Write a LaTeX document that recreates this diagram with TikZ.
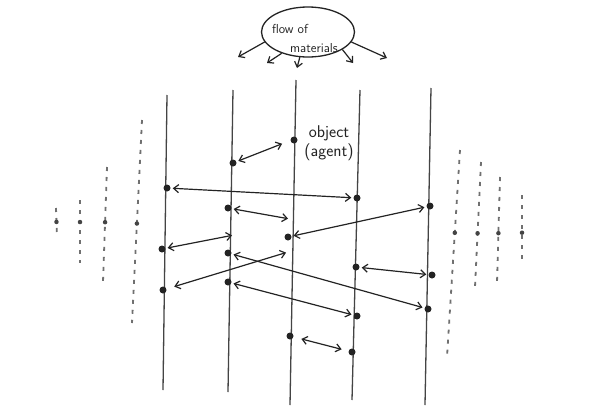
\documentclass[tikz,border=0pt]{standalone}
\usetikzlibrary{arrows.meta,positioning,shapes.geometric}
\definecolor{pencil}{RGB}{35,35,35}
\definecolor{paper}{RGB}{255,255,255}
\tikzset{
  lifeline/.style={line width=1.3pt,pencil!85},
  faint/.style={line width=1.8pt,pencil!65,dash pattern=on 4pt off 6pt},
  tick/.style={circle,fill=pencil!85,inner sep=0pt,minimum size=4.5pt},
  pt/.style={circle,fill=pencil,inner sep=0pt,minimum size=7pt},
  talk/.style={{Straight Barb[length=5pt,width=8pt]}-{Straight Barb[length=5pt,width=8pt]},line width=1.2pt,pencil,shorten <=2pt,shorten >=2pt},
  flow/.style={-{Straight Barb[length=5pt,width=8pt]},line width=1.2pt,pencil},
  hand/.style={font=\sffamily\fontsize{#1}{20}\selectfont,text=pencil}
}
\begin{document}
\begin{tikzpicture}[x=1pt,y=-1pt]
    \useasboundingbox[fill=paper] (0,0) rectangle (592,410);
    % the objects
    \foreach \n/\xt/\yt/\xb/\yb in {1/167/95/163/390, 2/233/90/228/392,
      3/296/80/290/405, 4/360/90/352/400, 5/431/88/425/405}
      \draw[lifeline] (\xt,\yt) coordinate (l\n t) -- (\xb,\yb) coordinate (l\n b);
    % objects fading out on both sides
    \foreach \n/\xt/\yt/\xb/\yb/\p in {a/142/120/132/323/.51, b/107/167/103/282/.48,
      c/80/200/80/263/.35, d/56/208/57/237/.48, e/460/150/447/357/.40,
      f/481/162/475/287/.57, g/500/177/497/283/.53, h/522/195/522/260/.58}
      \draw[faint] (\xt,\yt) -- node[pos=\p,tick] (m\n) {} (\xb,\yb);
    % cloud
    \node[ellipse,draw=pencil,line width=1.3pt,minimum width=93pt,minimum height=50pt] (cloud) at (308,32) {};
    \node[hand=13,anchor=center] (flowtxt) at (290,29) {flow of};
    \node[hand=13,anchor=center] (mattxt) at (314,48) {materials};
    \foreach \a/\x/\y [count=\i] in {193/238/57, 219/267/63, 252/297/68, 333/353/63, 347/387/58}
    {
      \coordinate (f\i) at (\x,\y);
      \draw[flow] (cloud.\a) -- (f\i);
    }
    % interactions
    \node[pt] (obj) at (294,140) {};
    \node[align=center,hand=17] (lbl) at (329,143) {object\\[-1pt](agent)};
    \node[pt] (b1) at (233,163) {};
    \node[pt] (a1) at (167,188) {};
    \node[pt] (d1) at (357,198) {};
    \node[pt] (b2) at (228,208) {};
    \node[pt] (e1) at (430,206) {};
    \node[pt] (c1) at (288,237) {};
    \node[pt] (a2) at (162,249) {};
    \node[pt] (b3) at (228,253) {};
    \node[pt] (d2) at (356,267) {};
    \node[pt] (e2) at (432,275) {};
    \node[pt] (b4) at (228,282) {};
    \node[pt] (a3) at (163,290) {};
    \node[pt] (e3) at (428,309) {};
    \node[pt] (d3) at (357,316) {};
    \node[pt] (c2) at (290,336) {};
    \node[pt] (d4) at (352,352) {};
    \coordinate (t1) at (284,143);
    \coordinate (t2) at (290,219);
    \coordinate (t3) at (234,235);
    \coordinate (t4) at (288,252);
    \draw[talk] (b1) -- (t1);
    \draw[talk] (a1) -- (d1);
    \draw[talk] (b2) -- (t2);
    \draw[talk] (c1) -- (e1);
    \draw[talk] (a2) -- (t3);
    \draw[talk] (b3) -- (e3);
    \draw[talk,shorten <=8pt] (a3) -- (t4);
    \draw[talk] (d2) -- (e2);
    \draw[talk] (b4) -- (d3);
    \draw[talk,shorten <=8pt,shorten >=7pt] (c2) -- (d4);
\end{tikzpicture}
\end{document}
